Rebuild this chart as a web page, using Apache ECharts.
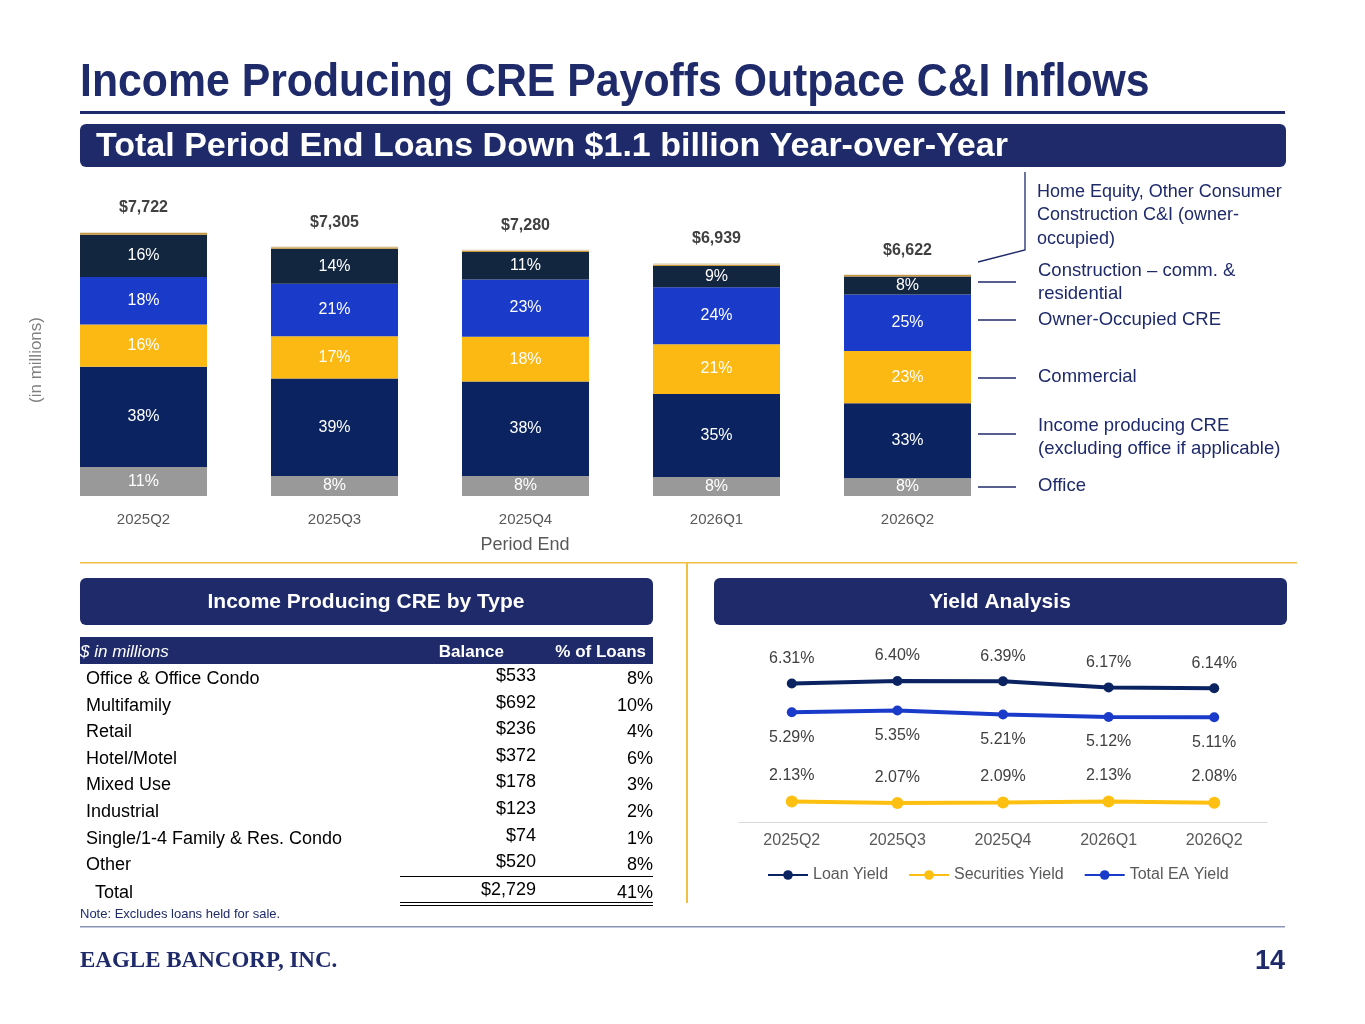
<!DOCTYPE html>
<html><head><meta charset="utf-8">
<script src="https://cdn.jsdelivr.net/npm/echarts@6/dist/echarts.min.js"></script>
<style>html,body{margin:0;padding:0;background:#fff}#c{width:1365px;height:1024px}</style>
</head><body><div id="c"></div>
<script>
const quarters = ['2025Q2','2025Q3','2025Q4','2026Q1','2026Q2'];
const totals = [7722,7305,7280,6939,6622];
const pctOffice = [11,8,8,8,8];
const pctIncome = [38,39,38,35,33];
const pctCommercial = [16,17,18,21,23];
const pctOOCRE = [18,21,23,24,25];
const pctConstruction = [16,14,11,9,8];
const pctCI = [0.6,0.6,0.6,0.6,0.6];
const pctHomeEq = [0.4,0.4,0.4,0.6,0.4];
const loanYield = [6.31,6.40,6.39,6.17,6.14];
const secYield = [2.13,2.07,2.09,2.13,2.08];
const eaYield = [5.29,5.35,5.21,5.12,5.11];
const tableTypes = ['Office & Office Condo','Multifamily','Retail','Hotel/Motel','Mixed Use','Industrial','Single/1-4 Family & Res. Condo','Other'];
const tableBal = ['$533','$692','$236','$372','$178','$123','$74','$520'];
const tablePct = ['8%','10%','4%','6%','3%','2%','1%','8%'];
const tableTotal = ['$2,729','41%'];

const NAVY='#1F2A6B', F='Liberation Sans, Arial, sans-serif';
const chart = echarts.init(document.getElementById('c'));
function seg(name,pct,color,label){
  return {name,type:'bar',stack:'a',xAxisIndex:0,yAxisIndex:0,barWidth:127,
    itemStyle:{color},
    data:pct.map((p,i)=>({value:p/100*totals[i],pct:p})),
    label:label?{show:true,position:'inside',color:'#fff',fontSize:16,fontFamily:F,formatter:q=>q.data.pct+'%'}:{show:false}};
}
const g=[];
g.push({type:'text',x:80,y:83,scaleX:0.93,style:{text:'Income Producing CRE Payoffs Outpace C&I Inflows',font:'bold 46px '+F,fill:NAVY,verticalAlign:'middle'}});
g.push({type:'rect',shape:{x:80,y:111,width:1205,height:3},style:{fill:NAVY}});
g.push({type:'rect',shape:{x:80,y:124,width:1206,height:43,r:6},style:{fill:NAVY}});
g.push({type:'text',x:96,y:147,style:{text:'Total Period End Loans Down $1.1 billion Year-over-Year',font:'bold 34px '+F,fill:'#fff',verticalAlign:'middle'}});
g.push({type:'text',x:36,y:360,rotation:Math.PI/2,style:{text:'(in millions)',font:'17px '+F,fill:'#7f7f7f',align:'center',verticalAlign:'middle'}});
g.push({type:'text',x:525,y:545,style:{text:'Period End',font:'18px '+F,fill:'#595959',align:'center',verticalAlign:'middle'}});
const ann=[[282,['Construction – comm. &','residential'],271],[320,['Owner-Occupied CRE'],320],[378,['Commercial'],377],[434,['Income producing CRE','(excluding office if applicable)'],426],[487,['Office'],486]];
ann.forEach(a=>{
  g.push({type:'line',shape:{x1:978,y1:a[0],x2:1016,y2:a[0]},style:{stroke:NAVY,lineWidth:1.3}});
  a[1].forEach((t,k)=>g.push({type:'text',x:1038,y:a[2]+k*23,style:{text:t,font:'18.5px '+F,fill:NAVY,verticalAlign:'middle'}}));
});
g.push({type:'polyline',shape:{points:[[978,262],[1025,250],[1025,172]]},style:{stroke:NAVY,lineWidth:1.3,fill:null}});
['Home Equity, Other Consumer','Construction C&I (owner-','occupied)'].forEach((t,k)=>g.push({type:'text',x:1037,y:192+k*23.5,style:{text:t,font:'18px '+F,fill:NAVY,verticalAlign:'middle'}}));
g.push({type:'rect',shape:{x:80,y:562,width:1217,height:1.5},style:{fill:'#F0C040'}});
g.push({type:'rect',shape:{x:686,y:563,width:2,height:340},style:{fill:'#F0C040'}});
g.push({type:'rect',shape:{x:80,y:926,width:1205,height:1.5},style:{fill:'#8A93B8'}});
[[80,'Income Producing CRE by Type',366],[714,'Yield Analysis',1000]].forEach(b=>{
  g.push({type:'rect',shape:{x:b[0],y:578,width:573,height:47,r:6},style:{fill:NAVY}});
  g.push({type:'text',x:b[2],y:602,style:{text:b[1],font:'bold 21px '+F,fill:'#fff',align:'center',verticalAlign:'middle'}});
});
g.push({type:'rect',shape:{x:80,y:637,width:573,height:27},style:{fill:NAVY}});
g.push({type:'text',x:80,y:652,style:{text:'$ in millions',font:'italic 17px '+F,fill:'#fff',verticalAlign:'middle'}});
g.push({type:'text',x:504,y:652,style:{text:'Balance',font:'bold 17px '+F,fill:'#fff',align:'right',verticalAlign:'middle'}});
g.push({type:'text',x:646,y:652,style:{text:'% of Loans',font:'bold 17px '+F,fill:'#fff',align:'right',verticalAlign:'middle'}});
tableTypes.forEach((t,i)=>{
  const y=679+i*26.6;
  g.push({type:'text',x:86,y,style:{text:t,font:'18px '+F,fill:'#000',verticalAlign:'middle'}});
  g.push({type:'text',x:536,y:y-3,style:{text:tableBal[i],font:'18px '+F,fill:'#000',align:'right',verticalAlign:'middle'}});
  g.push({type:'text',x:653,y,style:{text:tablePct[i],font:'18px '+F,fill:'#000',align:'right',verticalAlign:'middle'}});
});
g.push({type:'rect',shape:{x:400,y:876,width:253,height:1},style:{fill:'#000'}});
g.push({type:'text',x:95,y:893,style:{text:'Total',font:'18px '+F,fill:'#000',verticalAlign:'middle'}});
g.push({type:'text',x:536,y:890,style:{text:tableTotal[0],font:'18px '+F,fill:'#000',align:'right',verticalAlign:'middle'}});
g.push({type:'text',x:653,y:893,style:{text:tableTotal[1],font:'18px '+F,fill:'#000',align:'right',verticalAlign:'middle'}});
g.push({type:'rect',shape:{x:400,y:902,width:253,height:1},style:{fill:'#000'}});
g.push({type:'rect',shape:{x:400,y:905,width:253,height:1},style:{fill:'#000'}});
g.push({type:'text',x:80,y:914,style:{text:'Note: Excludes loans held for sale.',font:'13px '+F,fill:NAVY,verticalAlign:'middle'}});
g.push({type:'text',x:80,y:961,style:{text:'EAGLE BANCORP, INC.',font:'bold 23px "Liberation Serif", serif',fill:NAVY,verticalAlign:'middle'}});
g.push({type:'text',x:1285,y:962,style:{text:'14',font:'bold 27px '+F,fill:NAVY,align:'right',verticalAlign:'middle'}});

const lab=(pos)=>({show:true,position:pos,distance:12,color:'#404040',fontSize:16,fontFamily:F,formatter:q=>q.value.toFixed(2)+'%'});
chart.setOption({
  animation:false,
  grid:[{left:48,width:955,top:196,height:300},{left:739,width:528,top:640,height:182}],
  xAxis:[{type:'category',data:quarters,gridIndex:0,axisLine:{show:false},axisTick:{show:false},axisLabel:{color:'#595959',fontSize:15,fontFamily:F,margin:16}},
         {type:'category',data:quarters,gridIndex:1,axisLine:{lineStyle:{color:'#d9d9d9'}},axisTick:{show:false},axisLabel:{color:'#595959',fontSize:16,fontFamily:F,margin:11}}],
  yAxis:[{type:'value',gridIndex:0,min:0,max:8775,show:false},{type:'value',gridIndex:1,min:1.4,max:7.85,show:false}],
  legend:{bottom:136,left:762,data:['Loan Yield','Securities Yield','Total EA Yield'],itemWidth:40,itemHeight:12,itemGap:20,textStyle:{color:'#595959',fontSize:16,fontFamily:F}},
  series:[
    seg('Office',pctOffice,'#999999',true),
    seg('Income',pctIncome,'#0B2461',true),
    seg('Commercial',pctCommercial,'#FDB913',true),
    seg('OOCRE',pctOOCRE,'#1A3BC9',true),
    seg('Construction',pctConstruction,'#13263F',true),
    seg('CI',pctCI,'#C8963E',false),
    Object.assign(seg('HomeEq',pctHomeEq,'#E8E2D0',false),{label:{show:true,position:'top',distance:16,color:'#404040',fontSize:16,fontWeight:'bold',fontFamily:F,formatter:q=>'$'+totals[q.dataIndex].toLocaleString('en-US')}}),
    {name:'Loan Yield',type:'line',xAxisIndex:1,yAxisIndex:1,data:loanYield,color:'#0B2461',lineStyle:{width:4},symbol:'circle',symbolSize:10,label:lab('top')},
    {name:'Securities Yield',type:'line',xAxisIndex:1,yAxisIndex:1,data:secYield,color:'#FDC010',lineStyle:{width:4},symbol:'circle',symbolSize:12,label:lab('top')},
    {name:'Total EA Yield',type:'line',xAxisIndex:1,yAxisIndex:1,data:eaYield,color:'#1A3BC9',lineStyle:{width:4},symbol:'circle',symbolSize:10,label:lab('bottom')}
  ],
  graphic:g
});
</script></body></html>
